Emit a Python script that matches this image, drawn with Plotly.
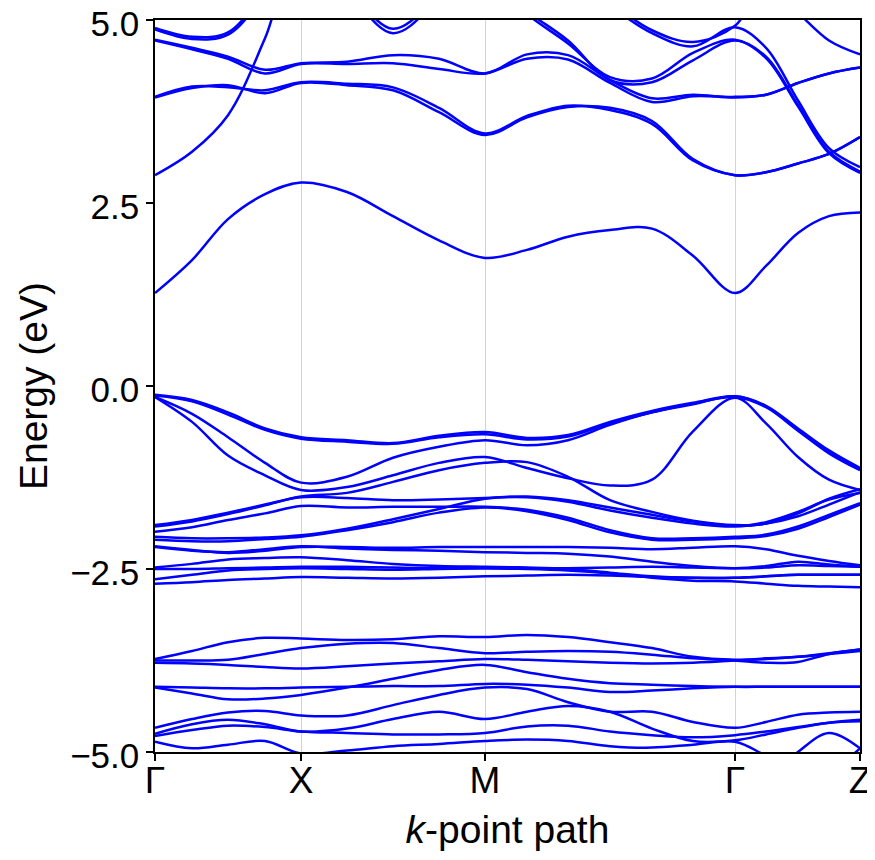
import plotly.graph_objects as go

# k-path (distance along path) and high-symmetry labels
k_nodes = [0.0, 1.46, 3.30, 5.80, 7.05]
k_labels = ["Γ", "X", "M", "Γ", "Z"]
k_path = [0.0, 0.37, 0.73, 1.10, 1.46,
          1.92, 2.38, 2.84, 3.30,
          3.72, 4.13, 4.55, 4.97, 5.38, 5.80,
          6.11, 6.43, 6.74, 7.05]

# ---- conduction bands (eV) ----
cb1 = [1.27, 1.72, 2.28, 2.62, 2.78, 2.65, 2.32, 1.99, 1.75, 1.86, 2.04, 2.13, 2.15, 1.78, 1.27, 1.64, 2.09, 2.32, 2.37]
cb_t1 = [3.94, 4.07, 4.11, 4.00, 4.14, 4.11, 4.04, 3.74, 3.43, 3.67, 3.81, 3.80, 3.62, 3.10, 2.88, 2.92, 3.04, 3.17, 3.40]
cb_t1b = [3.95, 4.09, 4.08, 4.04, 4.15, 4.13, 4.08, 3.80, 3.45, 3.69, 3.83, 3.77, 3.58, 3.08, 2.88, 2.92, 3.04, 3.17, 3.40]
cb_s = [2.88, 3.20, 3.70, 4.75, 6.0, 5.4, 4.82, 5.3, 6.0, 6.0, 5.7, 5.2, 4.82, 4.64, 4.90, 4.62, 3.90, 3.25, 2.99]
cb_s2 = [6.0, 6.0, 6.0, 6.0, 6.0, 5.45, 4.88, 5.35, 6.0, 6.0, 5.75, 5.25, 4.86, 4.70, 4.92, 5.5, 5.1, 4.72, 4.53]
cb_p1 = [4.89, 4.77, 4.83, 5.4, 6.0, 6.2, 6.2, 6.2, 5.6, 5.08, 4.68, 4.22, 4.20, 4.55, 4.73, 4.48, 3.82, 3.18, 2.91]
cb_p1b = [4.87, 4.74, 4.80, 5.35, 6.0, 6.2, 6.2, 6.2, 5.6, 5.12, 4.72, 4.18, 4.15, 4.45, 4.72, 4.50, 3.84, 3.20, 2.93]
cb_h = [4.73, 4.62, 4.50, 4.32, 4.41, 4.43, 4.52, 4.47, 4.27, 4.53, 4.52, 4.18, 3.93, 3.98, 3.94, 3.98, 4.14, 4.27, 4.35]
cb_h2 = [4.72, 4.60, 4.47, 4.27, 4.40, 4.40, 4.41, 4.33, 4.27, 4.47, 4.46, 4.14, 3.88, 3.96, 3.95, 3.98, 4.14, 4.27, 4.35]

# ---- upper valence bands ----
vb_1 = [-0.12, -0.19, -0.36, -0.58, -0.70, -0.74, -0.78, -0.68, -0.63, -0.71, -0.67, -0.49, -0.34, -0.23, -0.14, -0.27, -0.58, -0.88, -1.12]
vb_1b = [-0.13, -0.21, -0.39, -0.60, -0.72, -0.76, -0.79, -0.70, -0.66, -0.73, -0.69, -0.51, -0.36, -0.24, -0.15, -0.29, -0.61, -0.92, -1.15]
vb_2 = [-0.15, -0.38, -0.70, -1.05, -1.32, -1.24, -0.98, -0.83, -0.74, -0.81, -0.74, -0.53, -0.36, -0.25, -0.14, -0.28, -0.60, -0.90, -1.13]
vb_3 = [-0.15, -0.49, -0.95, -1.22, -1.42, -1.38, -1.22, -1.05, -0.97, -1.12, -1.26, -1.36, -1.28, -0.62, -0.16, -0.51, -0.97, -1.28, -1.42]
vb_4 = [-1.92, -1.85, -1.75, -1.63, -1.51, -1.46, -1.31, -1.15, -1.05, -1.04, -1.24, -1.56, -1.72, -1.84, -1.90, -1.88, -1.74, -1.54, -1.41]
vb_w1 = [-1.90, -1.83, -1.73, -1.62, -1.52, -1.53, -1.56, -1.55, -1.53, -1.51, -1.56, -1.66, -1.76, -1.85, -1.91, -1.88, -1.78, -1.62, -1.45]
vb_w2 = [-1.99, -1.93, -1.83, -1.74, -1.64, -1.66, -1.65, -1.65, -1.65, -1.69, -1.80, -1.97, -2.08, -2.08, -2.06, -2.03, -1.92, -1.76, -1.60]
vb_w3 = [-2.06, -2.08, -2.08, -2.07, -2.04, -1.95, -1.82, -1.68, -1.54, -1.52, -1.58, -1.70, -1.80, -1.88, -1.92, -1.86, -1.72, -1.55, -1.46]
vb_w3b = [-2.10, -2.12, -2.12, -2.09, -2.06, -1.97, -1.86, -1.73, -1.66, -1.71, -1.83, -2.00, -2.10, -2.10, -2.08, -2.05, -1.95, -1.79, -1.62]
vb_x1 = [-2.19, -2.24, -2.28, -2.25, -2.20, -2.20, -2.21, -2.20, -2.20, -2.20, -2.20, -2.21, -2.23, -2.21, -2.19, -2.23, -2.32, -2.39, -2.45]
vb_x1b = [-2.20, -2.25, -2.27, -2.23, -2.19, -2.22, -2.24, -2.25, -2.27, -2.28, -2.29, -2.33, -2.40, -2.46, -2.49, -2.46, -2.40, -2.44, -2.47]
vb_x2 = [-2.48, -2.43, -2.37, -2.35, -2.34, -2.38, -2.43, -2.46, -2.47, -2.48, -2.50, -2.55, -2.60, -2.62, -2.62, -2.60, -2.58, -2.58, -2.58]
vb_x3 = [-2.50, -2.50, -2.49, -2.48, -2.47, -2.47, -2.48, -2.49, -2.49, -2.50, -2.52, -2.56, -2.62, -2.66, -2.67, -2.70, -2.73, -2.74, -2.75]
vb_x4 = [-2.64, -2.58, -2.52, -2.50, -2.49, -2.50, -2.51, -2.50, -2.49, -2.49, -2.49, -2.48, -2.47, -2.48, -2.49, -2.48, -2.45, -2.46, -2.47]
vb_x5 = [-2.70, -2.68, -2.65, -2.63, -2.61, -2.62, -2.63, -2.62, -2.60, -2.59, -2.58, -2.59, -2.61, -2.62, -2.62, -2.60, -2.58, -2.58, -2.58]

# ---- lower valence bands ----
lb_1 = [-3.73, -3.62, -3.50, -3.44, -3.45, -3.47, -3.46, -3.42, -3.43, -3.40, -3.43, -3.50, -3.58, -3.70, -3.74, -3.73, -3.70, -3.65, -3.60]
lb_2 = [-3.75, -3.75, -3.74, -3.66, -3.58, -3.52, -3.51, -3.58, -3.65, -3.63, -3.62, -3.63, -3.67, -3.72, -3.75, -3.78, -3.77, -3.66, -3.60]
lb_3 = [-3.78, -3.79, -3.81, -3.84, -3.86, -3.83, -3.79, -3.76, -3.73, -3.74, -3.76, -3.78, -3.79, -3.78, -3.75, -3.72, -3.70, -3.66, -3.62]
lb_4 = [-4.12, -4.20, -4.28, -4.27, -4.22, -4.12, -4.00, -3.88, -3.81, -3.91, -4.00, -4.06, -4.08, -4.10, -4.11, -4.11, -4.11, -4.11, -4.11]
lb_5 = [-4.11, -4.12, -4.13, -4.13, -4.12, -4.11, -4.10, -4.10, -4.07, -4.08, -4.12, -4.18, -4.16, -4.13, -4.11, -4.11, -4.11, -4.11, -4.11]
lb_6 = [-4.67, -4.55, -4.46, -4.44, -4.50, -4.50, -4.36, -4.22, -4.12, -4.14, -4.32, -4.45, -4.45, -4.59, -4.67, -4.59, -4.49, -4.46, -4.45]
lb_7 = [-4.75, -4.62, -4.56, -4.62, -4.72, -4.68, -4.55, -4.45, -4.55, -4.45, -4.37, -4.45, -4.68, -4.85, -4.84, -4.76, -4.67, -4.60, -4.56]
lb_8 = [-4.78, -4.70, -4.64, -4.66, -4.72, -4.74, -4.76, -4.76, -4.74, -4.65, -4.64, -4.72, -4.77, -4.80, -4.77, -4.72, -4.66, -4.60, -4.58]
lb_9 = [-4.86, -4.95, -4.90, -4.85, -5.02, -4.98, -4.92, -4.89, -4.85, -4.83, -4.85, -4.92, -4.94, -4.90, -4.86, -5.05, -5.25, -5.25, -4.95]
lb_10 = [-5.6, -5.6, -5.6, -5.6, -5.6, -5.6, -5.6, -5.6, -5.6, -5.6, -5.6, -5.6, -5.6, -5.6, -5.5, -5.4, -5.0, -4.74, -4.95]

bands = [cb1, cb_t1, cb_t1b, cb_s, cb_s2, cb_p1, cb_p1b, cb_h, cb_h2,
         vb_1, vb_1b, vb_2, vb_3, vb_4, vb_w1, vb_w2, vb_w3, vb_w3b,
         vb_x1, vb_x1b, vb_x2, vb_x3, vb_x4, vb_x5,
         lb_1, lb_2, lb_3, lb_4, lb_5, lb_6, lb_7, lb_8, lb_9, lb_10]

FONT = "Liberation Sans, Arial, sans-serif"

fig = go.Figure()
for b in bands:
    fig.add_trace(go.Scatter(
        x=k_path, y=b, mode="lines",
        line=dict(color="#0000ff", width=2.5, shape="spline", smoothing=1.0),
        hoverinfo="skip", showlegend=False,
    ))

# page has an 8px body margin, so the figure is sized to fit the window
fig.update_layout(
    width=867, height=852,
    margin=dict(l=147, r=15, t=12, b=108, autoexpand=False),
    paper_bgcolor="white", plot_bgcolor="white",
    font=dict(family=FONT, size=35, color="black"),
    showlegend=False,
)
fig.update_xaxes(
    range=[k_nodes[0], k_nodes[-1]],
    tickmode="array", tickvals=k_nodes, ticktext=k_labels,
    showgrid=True, gridcolor="#d3d3d3", gridwidth=1,
    showline=True, linecolor="black", linewidth=1.5, mirror=True,
    ticks="outside", ticklen=7, tickwidth=1.5, tickcolor="black",
    tickfont=dict(family=FONT, size=37), ticklabelstandoff=-12,
    ticklabeloverflow="allow",
    title=dict(text="<i>k</i>-point path", font=dict(family=FONT, size=39), standoff=16),
    zeroline=False, automargin=False,
)
fig.update_yaxes(
    range=[-5, 5],
    tickmode="array", tickvals=[-5, -2.5, 0, 2.5, 5],
    ticktext=["−5.0", "−2.5", "0.0", "2.5", "5.0"],
    showgrid=False,
    showline=True, linecolor="black", linewidth=1.5, mirror=True,
    ticks="outside", ticklen=7, tickwidth=1.5, tickcolor="black",
    tickfont=dict(family=FONT, size=35),
    ticklabeloverflow="allow", ticklabelshift=4,
    title=dict(text="Energy (eV)", font=dict(family=FONT, size=39), standoff=10),
    zeroline=False, automargin=False,
)

fig.write_html("out.html")
